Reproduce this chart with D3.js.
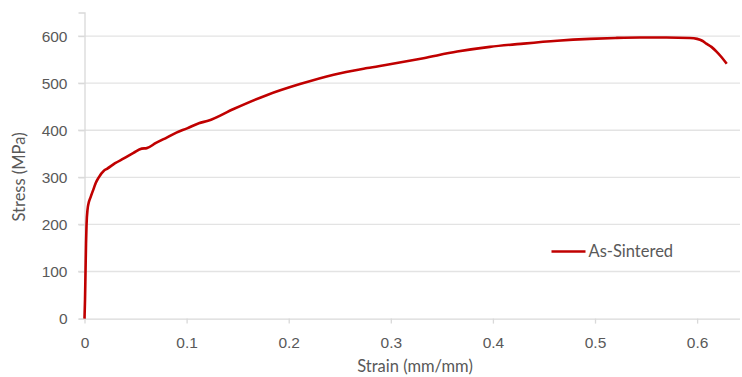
<!DOCTYPE html>
<html>
<head>
<meta charset="utf-8">
<script src="https://cdn.jsdelivr.net/npm/d3@7"></script>
<style>
  html, body { margin: 0; padding: 0; background: #fff; }
  svg { display: block; font-family: Lato, "Open Sans", sans-serif; }
</style>
</head>
<body>
<svg id="chart" width="742" height="377"></svg>
<script>
// Stress-strain curve
const strain = [0, 0.0005, 0.001, 0.0015, 0.002, 0.003, 0.004, 0.006, 0.009, 0.011, 0.014,
  0.019, 0.022, 0.03, 0.0385, 0.048, 0.056, 0.061, 0.07, 0.081, 0.09, 0.1005, 0.112,
  0.121, 0.146, 0.179, 0.211, 0.244, 0.277, 0.299, 0.332, 0.365, 0.397, 0.43, 0.463,
  0.495, 0.52, 0.544, 0.57, 0.593, 0.6, 0.605, 0.609, 0.614, 0.619, 0.624, 0.629];
const stress = [0, 40, 100, 160, 200, 232, 245, 258, 276, 288, 300,
  314, 318, 330, 340, 352, 361, 362, 373, 385, 395, 404, 415,
  420, 445, 475, 498, 518, 532, 540, 553, 567, 577, 584, 590,
  594, 596, 597, 597, 596, 594, 590, 584, 577, 567, 555, 541];
const seriesName = "As-Sintered";
const xTicks = [0, 0.1, 0.2, 0.3, 0.4, 0.5, 0.6];
const yTicks = [0, 100, 200, 300, 400, 500, 600];

const svg = d3.select("#chart");
const x = d3.scaleLinear().domain([0, 0.642]).range([84.5, 740]);
const y = d3.scaleLinear().domain([0, 650]).range([318.6, 12.5]);

// gridlines
svg.append("g")
  .selectAll("line")
  .data(yTicks.filter(d => d > 0))
  .join("line")
    .attr("x1", 78).attr("x2", 740)
    .attr("y1", d => y(d)).attr("y2", d => y(d))
    .attr("stroke", "#e3e3e3").attr("stroke-width", 1.3);

// y axis
const yAxis = svg.append("g")
  .attr("transform", "translate(84.5,0)")
  .call(d3.axisLeft(y).tickValues(yTicks).tickSize(6).tickPadding(11).tickFormat(d3.format("d")));
yAxis.select(".domain").attr("stroke", "#d9d9d9").attr("stroke-width", 1.3);
yAxis.selectAll(".tick line").attr("stroke", "#d9d9d9").attr("stroke-width", 1.3);
yAxis.selectAll("text").attr("fill", "#595959").attr("font-size", 15.5);

// x axis
const xAxis = svg.append("g")
  .attr("transform", `translate(0,${y(0)})`)
  .call(d3.axisBottom(x).tickValues(xTicks).tickSize(5).tickPadding(13).tickFormat(d => d === 0 ? "0" : d3.format(".1f")(d)));
xAxis.select(".domain").attr("stroke", "#d9d9d9").attr("stroke-width", 1.3)
  .attr("d", "M84.5,0.5H740");
xAxis.selectAll(".tick line").attr("stroke", "#d9d9d9").attr("stroke-width", 1.3);
xAxis.selectAll("text").attr("fill", "#595959").attr("font-size", 15.5);

// axis titles
svg.append("text")
  .attr("x", 415).attr("y", 372)
  .attr("text-anchor", "middle")
  .attr("fill", "#595959").attr("font-size", 16.5)
  .text("Strain (mm/mm)");
svg.append("text")
  .attr("transform", "translate(25,177) rotate(-90)")
  .attr("text-anchor", "middle")
  .attr("fill", "#595959").attr("font-size", 16.5)
  .text("Stress (MPa)");

// curve
const pts = strain.map((s, i) => [s, stress[i]]);
svg.append("path")
  .datum(pts)
  .attr("fill", "none")
  .attr("stroke", "#c00000")
  .attr("stroke-width", 2.6)
  .attr("stroke-linejoin", "round")
  .attr("d", d3.line().x(d => x(d[0])).y(d => y(d[1])).curve(d3.curveMonotoneX));

// legend
const leg = svg.append("g").attr("transform", "translate(551.5,251.5)");
leg.append("line")
  .attr("x1", 0).attr("x2", 34)
  .attr("stroke", "#c00000").attr("stroke-width", 2.6);
leg.append("text")
  .attr("x", 37).attr("dy", "0.35em")
  .attr("fill", "#595959").attr("font-size", 16.5)
  .text(seriesName);
</script>
</body>
</html>
